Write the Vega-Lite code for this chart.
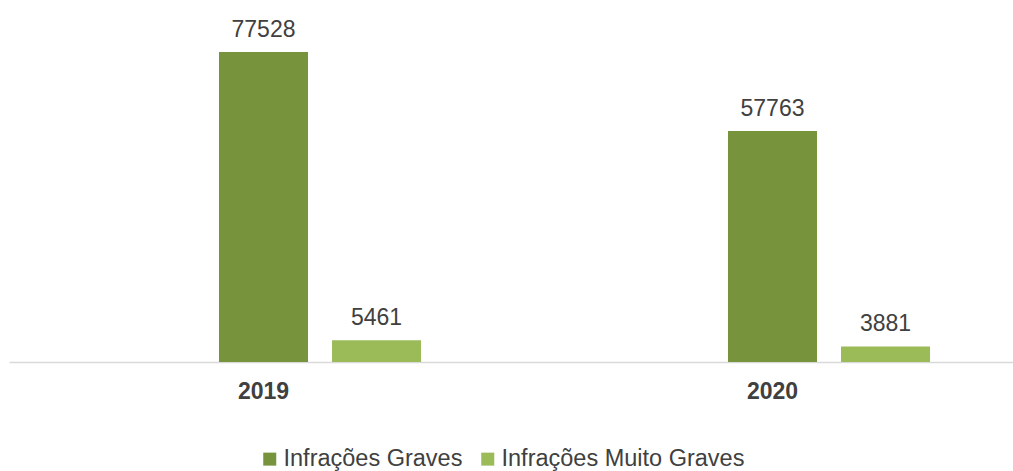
{
  "$schema": "https://vega.github.io/schema/vega-lite/v6.json",
  "width": 1018,
  "height": 352,
  "padding": {"left": 9, "top": 10, "right": 0, "bottom": 0},
  "autosize": {"type": "pad"},
  "background": "white",
  "config": {
    "view": {"stroke": null},
    "font": "Liberation Sans",
    "text": {"font": "Liberation Sans"}
  },
  "data": {
    "values": [
      {"ano": "2019", "tipo": "Infrações Graves", "valor": 77528},
      {"ano": "2019", "tipo": "Infrações Muito Graves", "valor": 5461},
      {"ano": "2020", "tipo": "Infrações Graves", "valor": 57763},
      {"ano": "2020", "tipo": "Infrações Muito Graves", "valor": 3881}
    ]
  },
  "encoding": {
    "x": {
      "field": "ano",
      "type": "nominal",
      "scale": {"paddingInner": 0, "paddingOuter": 0},
      "axis": {
        "title": null,
        "labelAngle": 0,
        "labelFont": "Liberation Sans",
        "labelFontSize": 23,
        "labelFontWeight": "bold",
        "labelColor": "#404040",
        "labelPadding": 18,
        "ticks": false,
        "domainColor": "#d9d9d9",
        "domainWidth": 1.5
      }
    },
    "xOffset": {
      "field": "tipo",
      "type": "nominal",
      "scale": {"domain": ["_", "Infrações Graves", "Infrações Muito Graves"], "paddingInner": 0.2124, "paddingOuter": 0.858}
    },
    "y": {
      "field": "valor",
      "type": "quantitative",
      "scale": {"domain": [0, 88000], "nice": false},
      "axis": null
    }
  },
  "layer": [
    {
      "mark": {"type": "bar"},
      "encoding": {
        "color": {
          "field": "tipo",
          "type": "nominal",
          "scale": {"domain": ["Infrações Graves", "Infrações Muito Graves"], "range": ["#77933C", "#9BBB59"]},
          "legend": {
            "title": null,
            "orient": "none",
            "legendX": 249,
            "legendY": 437,
            "direction": "horizontal",
            "symbolType": "square",
            "symbolSize": 169,
            "symbolStrokeWidth": 0,
            "labelFont": "Liberation Sans",
            "labelFontSize": 23.5,
            "labelColor": "#404040",
            "labelOffset": 2,
            "labelLimit": 500,
            "columnPadding": 13
          }
        }
      }
    },
    {
      "mark": {"type": "text", "baseline": "alphabetic", "dy": -15, "fontSize": 23, "color": "#404040", "font": "Liberation Sans"},
      "encoding": {
        "text": {"field": "valor", "type": "quantitative", "format": "d"}
      }
    }
  ]
}
